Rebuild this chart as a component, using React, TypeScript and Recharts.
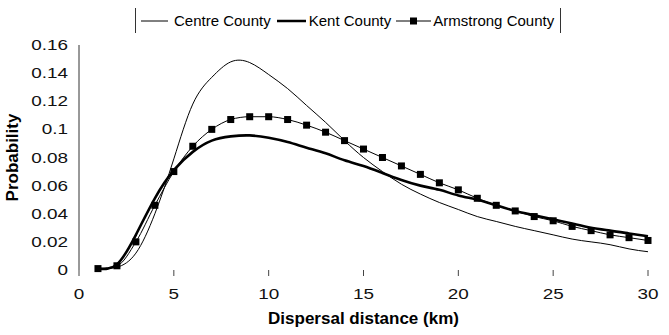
import { CartesianGrid, Line, LineChart, XAxis, YAxis, Label } from "recharts";

const distanceKm = [1, 2, 3, 4, 5, 6, 7, 8, 9, 10, 11, 12, 13, 14, 15, 16, 17, 18, 19, 20, 21, 22, 23, 24, 25, 26, 27, 28, 29, 30];
const centreCounty = [0.001, 0.002, 0.012, 0.04, 0.079, 0.118, 0.137, 0.148, 0.1475, 0.139, 0.129, 0.117, 0.105, 0.092, 0.08, 0.07, 0.061, 0.054, 0.048, 0.043, 0.038, 0.0345, 0.031, 0.028, 0.025, 0.022, 0.02, 0.018, 0.015, 0.013];
const kentCounty = [0.001, 0.004, 0.025, 0.051, 0.071, 0.084, 0.092, 0.095, 0.0957, 0.094, 0.091, 0.087, 0.083, 0.078, 0.074, 0.069, 0.064, 0.06, 0.057, 0.053, 0.05, 0.046, 0.042, 0.039, 0.036, 0.033, 0.03, 0.028, 0.026, 0.024];
const armstrongCounty = [0.001, 0.003, 0.02, 0.046, 0.07, 0.088, 0.1, 0.107, 0.109, 0.109, 0.107, 0.103, 0.098, 0.092, 0.086, 0.08, 0.074, 0.068, 0.062, 0.057, 0.051, 0.046, 0.042, 0.038, 0.035, 0.031, 0.028, 0.025, 0.023, 0.021];
const xTicks = [0, 5, 10, 15, 20, 25, 30];
const yTicks = [0, 0.02, 0.04, 0.06, 0.08, 0.1, 0.12, 0.14, 0.16];

const data = distanceKm.map((d, i) => ({
  d,
  centre: centreCounty[i],
  kent: kentCounty[i],
  armstrong: armstrongCounty[i],
}));

const FONT = "'Liberation Sans', Arial, sans-serif";

// tick text in the source looks horizontally stretched
function YTick({ x, y, payload }: any) {
  return (
    <g transform={`translate(${x},${y})`}>
      <text transform="scale(1.35,1)" textAnchor="end" dy="0.36em" fontSize={14} fontFamily={FONT} fill="#111">
        {String(payload.value)}
      </text>
    </g>
  );
}

function XTick({ x, y, payload }: any) {
  return (
    <g transform={`translate(${x},${y})`}>
      <text transform="scale(1.35,1)" textAnchor="middle" dy="0.71em" fontSize={14} fontFamily={FONT} fill="#111">
        {String(payload.value)}
      </text>
    </g>
  );
}

function Square({ cx, cy }: any) {
  if (cx == null || cy == null) return null;
  return <rect x={cx - 3.5} y={cy - 3.5} width={7} height={7} fill="#000" />;
}

function Sample({ width, thick, marker }: { width: number; thick: number; marker?: boolean }) {
  return (
    <svg width={width} height={10} style={{ display: "block" }}>
      <line x1={0} y1={5} x2={width} y2={5} stroke="#000" strokeWidth={thick} />
      {marker && <rect x={width / 2 - 3.5} y={1.5} width={7} height={7} fill="#000" />}
    </svg>
  );
}

export default function App() {
  const itemText = { fontSize: 15, fontFamily: FONT, color: "#000", lineHeight: "25px" };
  return (
    <div style={{ position: "absolute", left: 0, top: 0, width: 669, height: 335, background: "#fff" }}>
      <LineChart width={669} height={335} data={data} margin={{ top: 45, right: 21, bottom: 35, left: 0 }}>
        <CartesianGrid horizontal={false} vertical={false} />
        <XAxis
          dataKey="d"
          type="number"
          domain={[0, 30]}
          ticks={xTicks}
          axisLine={false}
          tickLine={{ stroke: "#444" }}
          tickSize={6}
          tickMargin={13}
          height={30}
          tick={<XTick />}
        >
          <Label
            value="Dispersal distance (km)"
            position="bottom"
            offset={12}
            style={{ fontSize: 17, fontWeight: "bold", fontFamily: FONT, fill: "#000" }}
          />
        </XAxis>
        <YAxis
          type="number"
          domain={[0, 0.16]}
          ticks={yTicks}
          width={79}
          axisLine={{ stroke: "#333" }}
          tickLine={false}
          tickSize={6}
          tickMargin={5}
          tick={<YTick />}
        >
          <Label
            value="Probability"
            angle={-90}
            position="insideLeft"
            offset={12}
            style={{ fontSize: 17, fontWeight: "bold", fontFamily: FONT, fill: "#000", textAnchor: "middle" }}
          />
        </YAxis>
        <Line type="natural" dataKey="centre" stroke="#000" strokeWidth={1} dot={false} isAnimationActive={false} />
        <Line type="natural" dataKey="kent" stroke="#000" strokeWidth={2.6} dot={false} isAnimationActive={false} />
        <Line
          type="monotone"
          dataKey="armstrong"
          stroke="#000"
          strokeWidth={1}
          dot={<Square />}
          isAnimationActive={false}
        />
      </LineChart>
      <div
        style={{
          position: "absolute",
          left: 135,
          top: 8,
          height: 25,
          width: 426,
          borderLeft: "1px solid #333",
          borderRight: "1px solid #333",
          display: "flex",
          alignItems: "center",
          boxSizing: "border-box",
          paddingLeft: 5,
        }}
      >
        <Sample width={27} thick={1} />
        <span style={{ ...itemText, marginLeft: 6 }}>Centre County</span>
        <span style={{ marginLeft: 6 }}>
          <Sample width={29} thick={2.5} />
        </span>
        <span style={{ ...itemText, marginLeft: 3 }}>Kent County</span>
        <span style={{ marginLeft: 5 }}>
          <Sample width={35} thick={1} marker />
        </span>
        <span style={{ ...itemText, marginLeft: 2 }}>Armstrong County</span>
      </div>
    </div>
  );
}
